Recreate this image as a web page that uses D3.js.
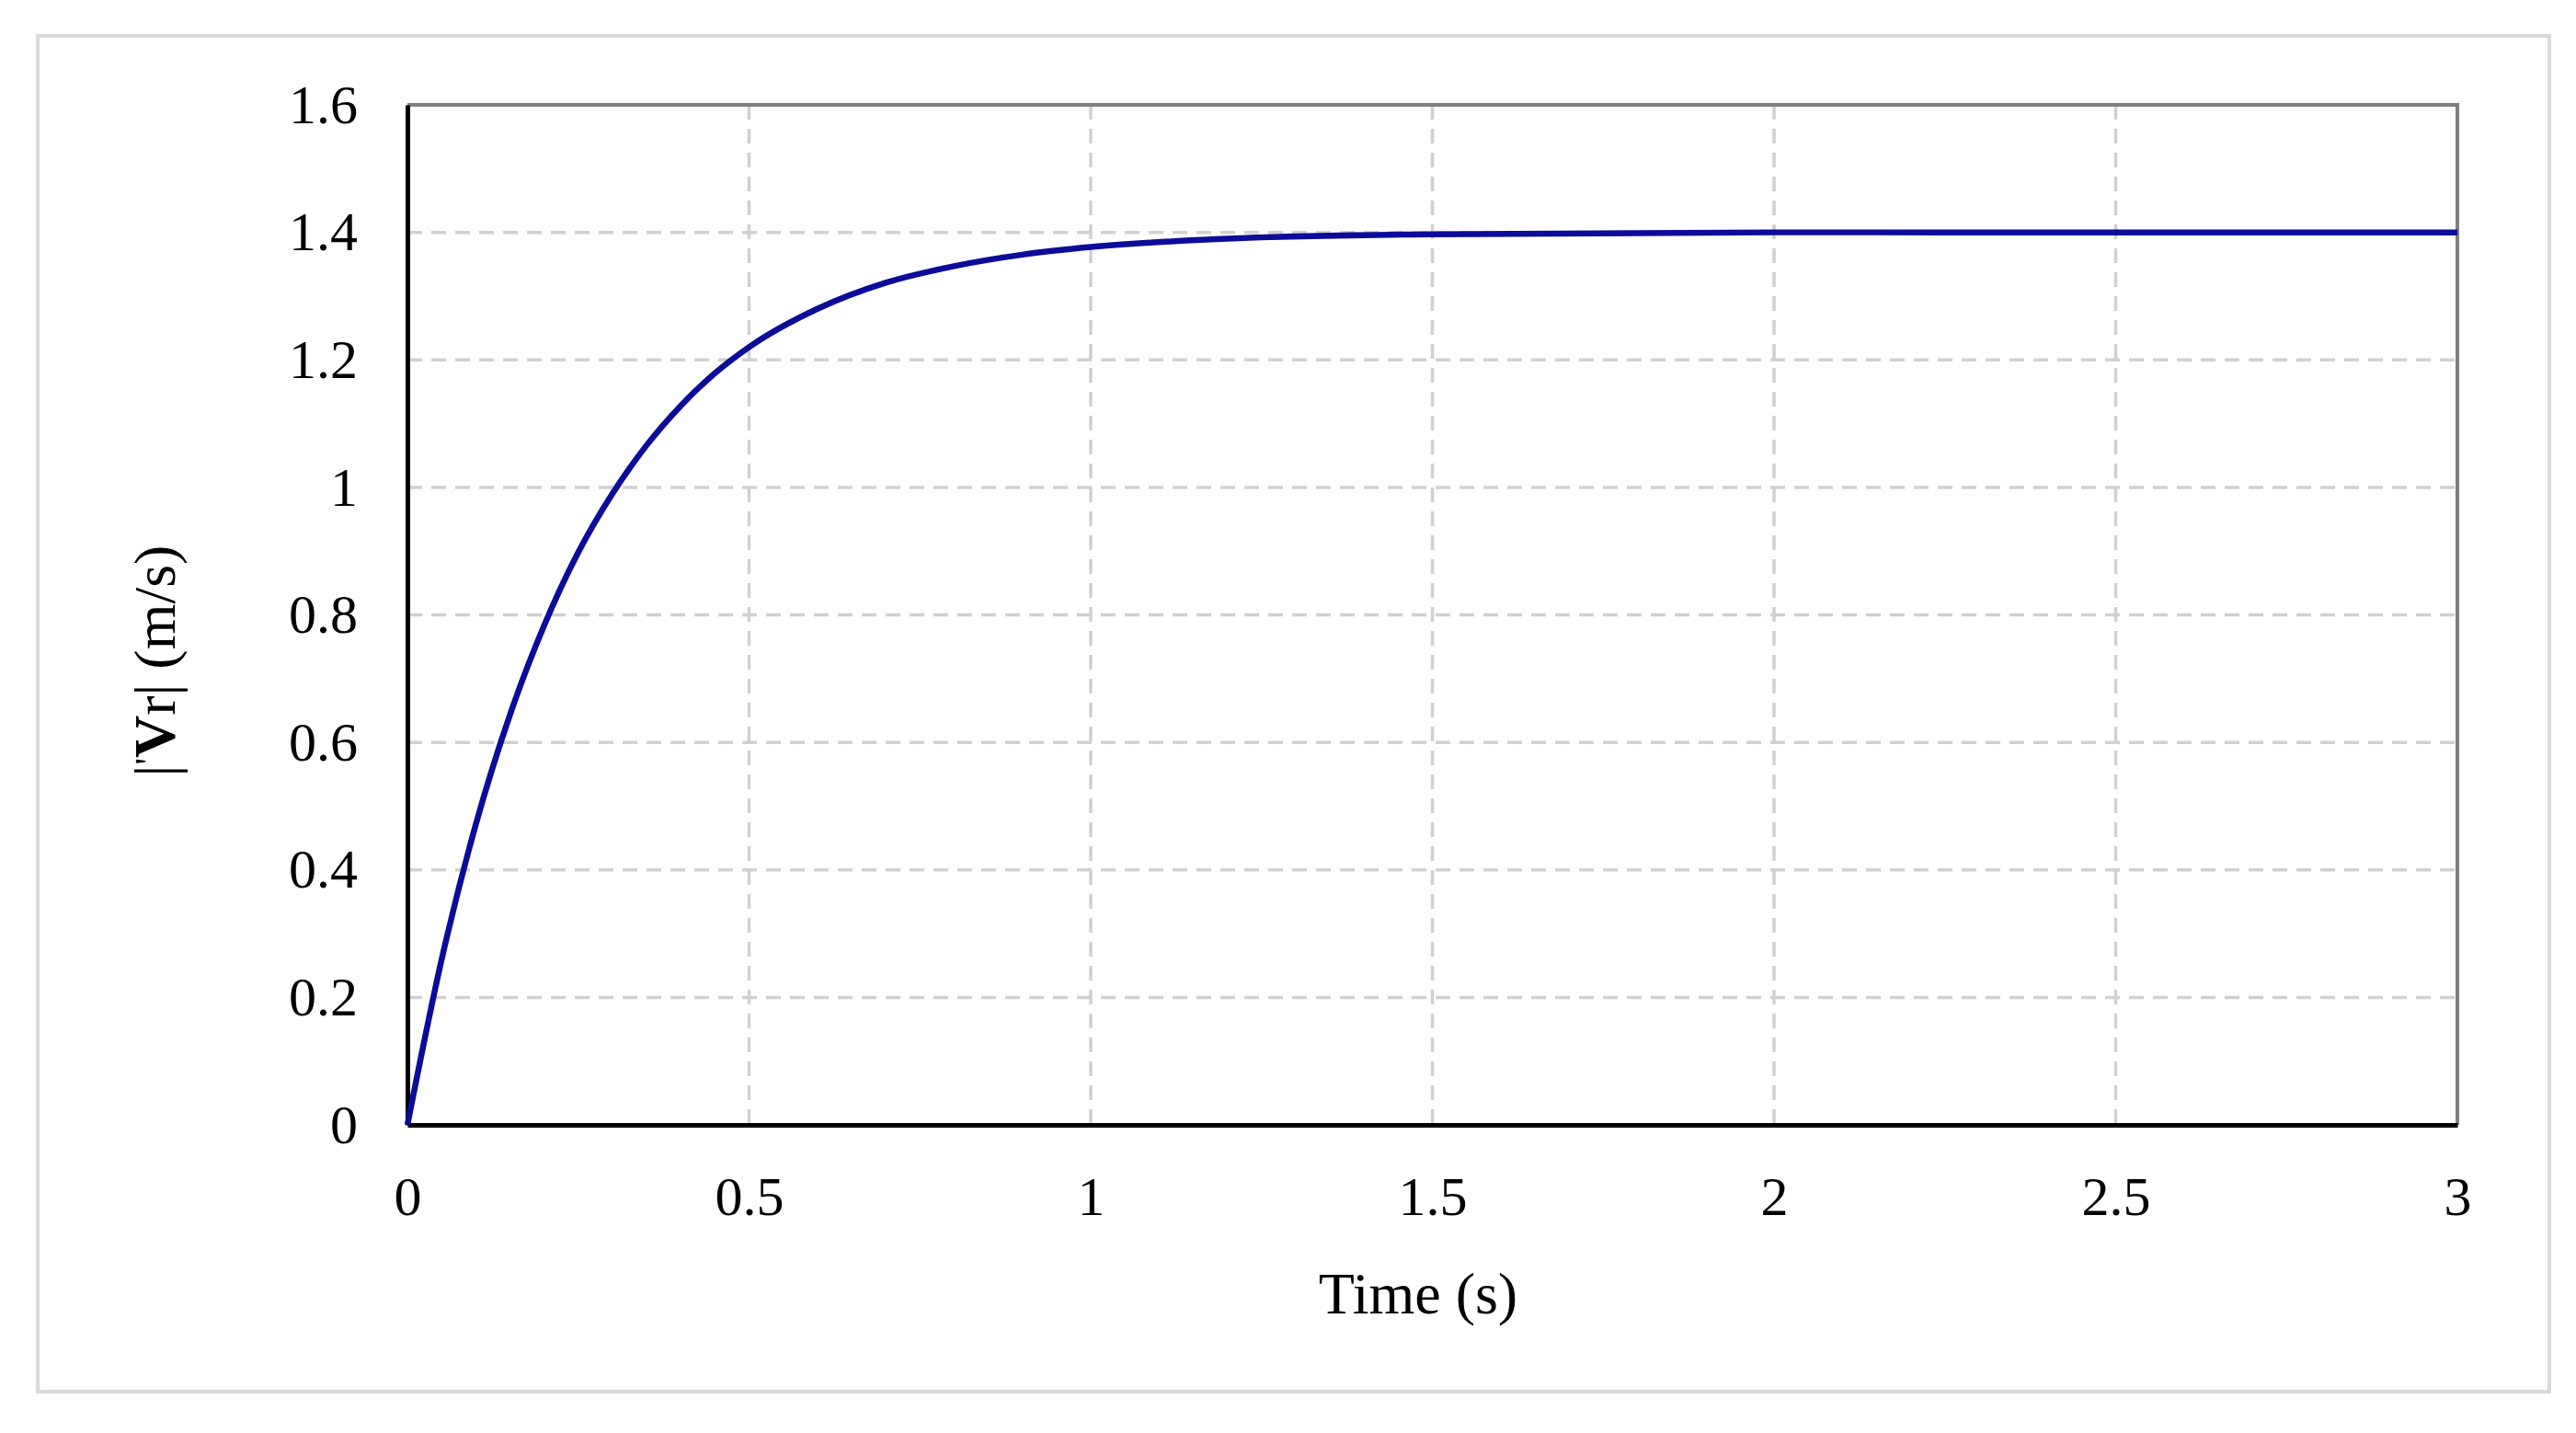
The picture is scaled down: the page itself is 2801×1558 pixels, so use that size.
<!DOCTYPE html>
<html>
<head>
<meta charset="utf-8">
<script src="https://cdn.jsdelivr.net/npm/d3@7"></script>
<style>
  body { margin: 0; background: #fff; }
  text { font-family: "Liberation Serif", "DejaVu Serif", serif; fill: #000; }
</style>
</head>
<body>
<svg id="chart" width="2801" height="1558"></svg>
<script>
const timeValues = [0, 0.05, 0.1, 0.15, 0.2, 0.25, 0.3, 0.35, 0.4, 0.45, 0.5, 0.6, 0.7, 0.8, 0.9, 1.0, 1.2, 1.5, 2.0, 2.5, 3.0];
const speedValues = [0, 0.259, 0.471, 0.643, 0.783, 0.898, 0.990, 1.066, 1.128, 1.179, 1.220, 1.280, 1.321, 1.347, 1.365, 1.377, 1.390, 1.397, 1.400, 1.400, 1.400];
const xTicks = [0, 0.5, 1, 1.5, 2, 2.5, 3];
const yTicks = [0, 0.2, 0.4, 0.6, 0.8, 1, 1.2, 1.4, 1.6];

const svg = d3.select("#chart");
const margin = { left: 443, right: 2672, top: 114, bottom: 1223 };

// outer frame
svg.append("rect")
    .attr("x", 41).attr("y", 39)
    .attr("width", 2731).attr("height", 1474)
    .attr("fill", "#fff")
    .attr("stroke", "#d9d9d9")
    .attr("stroke-width", 4);

const x = d3.scaleLinear().domain([0, 3]).range([margin.left, margin.right]);
const y = d3.scaleLinear().domain([0, 1.6]).range([margin.bottom, margin.top]);

// grid
const grid = svg.append("g").attr("stroke", "#d0d0d0").attr("stroke-width", 3.5).attr("stroke-dasharray", "16,10");
grid.selectAll(".gy").data(yTicks.slice(1)).join("line")
    .attr("x1", margin.left).attr("x2", margin.right)
    .attr("y1", d => y(d)).attr("y2", d => y(d));
grid.selectAll(".gx").data(xTicks.slice(1)).join("line")
    .attr("y1", margin.top).attr("y2", margin.bottom)
    .attr("x1", d => x(d)).attr("x2", d => x(d));

// top and right border
svg.append("path")
    .attr("d", `M${margin.left},${margin.top}H${margin.right}V${margin.bottom}`)
    .attr("fill", "none").attr("stroke", "#7f7f7f").attr("stroke-width", 4);

// axes
const xAxis = svg.append("g")
    .attr("transform", `translate(0,${margin.bottom})`)
    .call(d3.axisBottom(x).tickValues(xTicks).tickSize(0).tickPadding(44).tickFormat(d3.format("")));
const yAxis = svg.append("g")
    .attr("transform", `translate(${margin.left},0)`)
    .call(d3.axisLeft(y).tickValues(yTicks).tickSize(0).tickPadding(54).tickFormat(d3.format("")));
[xAxis, yAxis].forEach(a => {
    a.select(".domain").attr("stroke", "#000").attr("stroke-width", 5);
    a.selectAll("text").attr("font-size", 60).attr("font-family", "Liberation Serif");
});
xAxis.selectAll("text").attr("dy", "0.9em");

// line
const line = d3.line()
    .x((d, i) => x(timeValues[i]))
    .y(d => y(d))
    .curve(d3.curveMonotoneX);
svg.append("path")
    .datum(speedValues)
    .attr("d", line)
    .attr("fill", "none")
    .attr("stroke", "#0c0c9a")
    .attr("stroke-width", 6.5);

// axis titles
svg.append("text")
    .attr("x", 1542)
    .attr("y", 1428)
    .attr("text-anchor", "middle")
    .attr("font-size", 64)
    .text("Time (s)");

const yt = svg.append("text")
    .attr("transform", `translate(190,${(margin.top + margin.bottom) / 2 + 50}) rotate(-90)`)
    .attr("text-anchor", "middle")
    .attr("font-size", 64);
yt.append("tspan").text("|");
yt.append("tspan").attr("font-size", 42).attr("dy", -14).text("'");
yt.append("tspan").attr("font-weight", "bold").attr("dy", 14).text("V");
yt.append("tspan").text("r| (m/s)");
</script>
</body>
</html>
